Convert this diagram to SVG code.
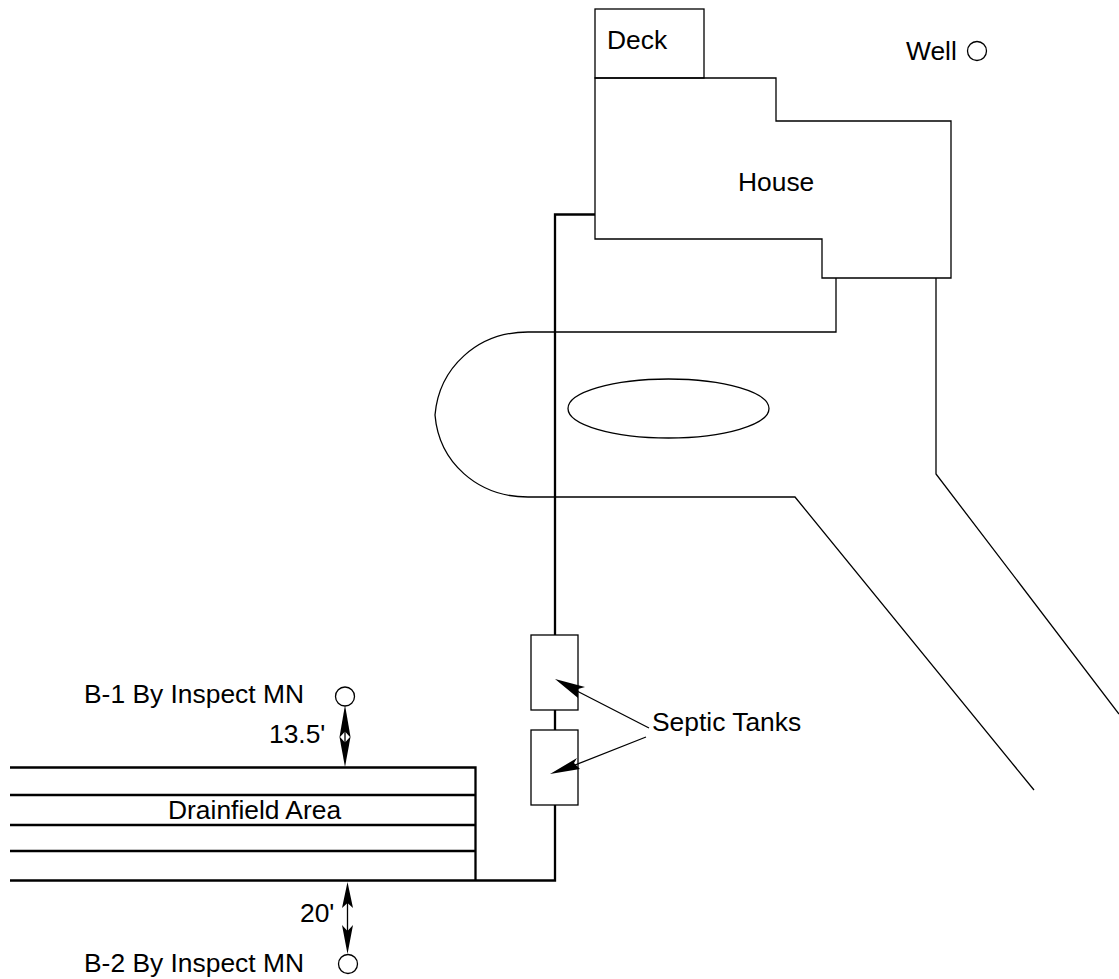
<svg xmlns="http://www.w3.org/2000/svg" width="1119" height="979" viewBox="0 0 1119 979">
<style>
.t{font-family:"Liberation Sans",Arial,sans-serif;font-size:26.4px;fill:#000}
.l{fill:none;stroke:#000;stroke-width:1.3}
.h{fill:none;stroke:#000;stroke-width:2.3}
.c{fill:#fff;stroke:#000;stroke-width:1.3}
.a{fill:#000;stroke:none}
</style>
<rect width="1119" height="979" fill="#fff"/>
<g id="connectors">
<path class="h" d="M595 214.500H555V880.500H10"/>
<path class="h" d="M10 767.500H475.500V880.500M10 795H475.500M10 825H475.500M10 851H475.500"/>
</g>
<g id="house"><path class="l" d="M595 78H776V121H951V278H822V239H595Z"/><text class="t" x="738" y="191">House</text></g>
<g id="deck"><rect class="l" x="595" y="9" width="109" height="69"/><text class="t" x="607" y="49">Deck</text></g>
<g id="well"><text class="t" x="906" y="60">Well</text><circle class="l" cx="977" cy="51" r="9.500"/></g>
<g id="driveway"><path class="l" d="M836 278V332H528C477 332 439 368 435 415C439 462 477 497 528 497H795L1034 790"/><path class="l" d="M936 278V474L1119 714"/></g>
<g id="island"><ellipse class="l" cx="668.500" cy="408.500" rx="100.500" ry="29.500"/></g>
<g id="tank-1"><rect class="c" x="531" y="635" width="47" height="75"/></g>
<g id="tank-2"><rect class="c" x="531" y="730" width="47" height="75"/></g>
<g id="leaders">
<path class="l" d="M649 728L575 690M646 737L570 767"/>
<path class="a" d="M555 679L585 687L578 689L578 698Z"/>
<path class="a" d="M550 774L577 758L574 763L580 769Z"/>
<path class="a" d="M345 705L350.500 737L345 767L339.500 737Z"/>
<path fill="#fff" d="M345 731.500L350 737L345 742.500L340 737Z"/>
<path class="l" d="M345 730V744M347.500 900V932"/>
<path class="a" d="M347.500 882L353 908L347.500 903L342 908Z"/>
<path class="a" d="M347.500 954L353 925L347.500 931L342 925Z"/>
</g>
<g id="septic-label"><text class="t" x="652" y="731">Septic Tanks</text></g>
<g id="drainfield-label"><text class="t" x="168" y="819">Drainfield Area</text></g>
<g id="b1"><text class="t" x="84" y="703">B-1 By Inspect MN</text><circle class="l" cx="345" cy="696.500" r="9.500"/></g>
<g id="b2"><text class="t" x="84" y="972">B-2 By Inspect MN</text><circle class="l" cx="348" cy="964" r="9.500"/></g>
<g id="d1"><text class="t" x="269" y="743">13.5'</text></g>
<g id="d2"><text class="t" x="300" y="922">20'</text></g>
</svg>
